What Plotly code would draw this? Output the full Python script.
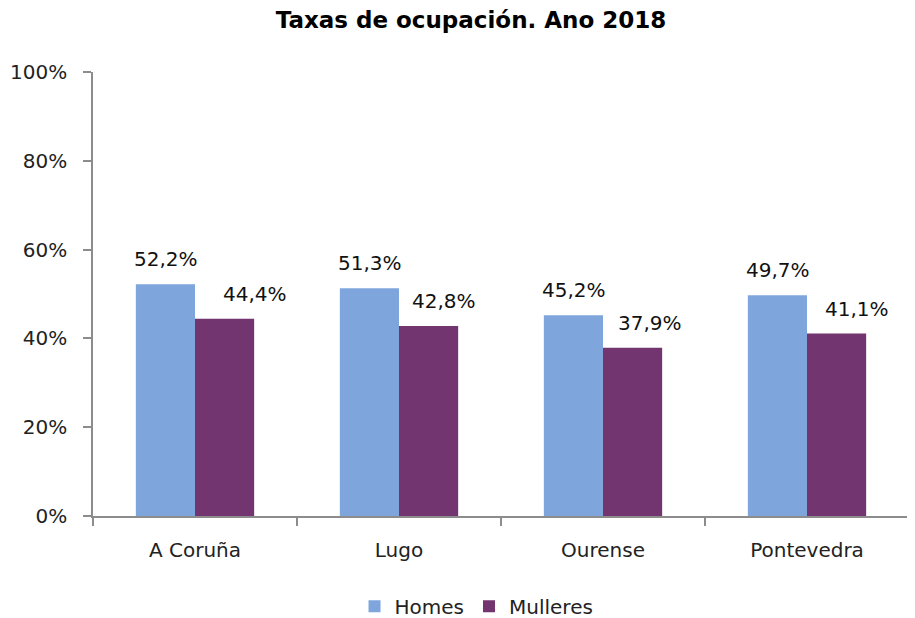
import plotly.graph_objects as go

categories = ["A Coruña", "Lugo", "Ourense", "Pontevedra"]
homes = [52.2, 51.3, 45.2, 49.7]
mulleres = [44.4, 42.8, 37.9, 41.1]
y_ticks = [0, 20, 40, 60, 80, 100]
y_tick_labels = ["0%", "20%", "40%", "60%", "80%", "100%"]

# style: extra horizontal nudge (px) of the Mulleres value labels, as in the original
mulleres_label_nudge = [30, 15, 17, 20]

FONT = "'DejaVu Sans', Verdana, sans-serif"
C_H = "#7EA6DC"
C_M = "#72356F"
AX = "#8c8c8c"

def fmt(v):
    return f"{v:.1f}".replace(".", ",") + "%"

fig = go.Figure()
fig.add_trace(go.Bar(name="Homes", x=categories, y=homes, marker=dict(color=C_H, line=dict(width=0))))
fig.add_trace(go.Bar(name="Mulleres", x=categories, y=mulleres, marker=dict(color=C_M, line=dict(width=0))))

bar_px = 59
for i, c in enumerate(categories):
    fig.add_annotation(x=c, y=homes[i], xref="x", yref="y", text=fmt(homes[i]), showarrow=False,
                       xshift=-bar_px / 2, yshift=25, font=dict(family=FONT, size=20, color="#111"))
    fig.add_annotation(x=c, y=mulleres[i], xref="x", yref="y", text=fmt(mulleres[i]), showarrow=False,
                       xshift=bar_px / 2 + mulleres_label_nudge[i], yshift=25,
                       font=dict(family=FONT, size=20, color="#111"))

W, H = 907, 610
fig.update_layout(
    width=W, height=H,
    margin=dict(l=85, r=6, t=64, b=102, autoexpand=False),
    paper_bgcolor="white", plot_bgcolor="white",
    barmode="group", bargap=0.42, bargroupgap=0,
    font=dict(family=FONT, size=20, color="#222"),
    title=dict(text="<b>Taxas de ocupación. Ano 2018</b>", x=(471 - 8) / W, xanchor="center",
               y=1 - 12 / H, yanchor="middle", font=dict(family=FONT, size=23, color="#000")),
    legend=dict(orientation="h", x=0.47, xanchor="center", y=-0.203, yanchor="middle",
                font=dict(family=FONT, size=20, color="#222"), itemwidth=30, traceorder="normal"),
    showlegend=True,
)
fig.update_xaxes(showline=True, linecolor=AX, linewidth=1.5, ticks="outside", tickson="boundaries",
                 ticklen=8, tickcolor=AX, tickwidth=1.5, showgrid=False, ticklabelstandoff=15,
                 automargin=False, tickfont=dict(family=FONT, size=20, color="#222"))
fig.update_yaxes(range=[0, 100], tickvals=y_ticks, ticktext=y_tick_labels, showline=True, linecolor=AX,
                 linewidth=1.5, ticks="outside", ticklen=8, tickcolor=AX, tickwidth=1.5, showgrid=False,
                 zeroline=False, ticklabelstandoff=12, automargin=False,
                 tickfont=dict(family=FONT, size=20, color="#222"))

fig.write_html("out.html")
